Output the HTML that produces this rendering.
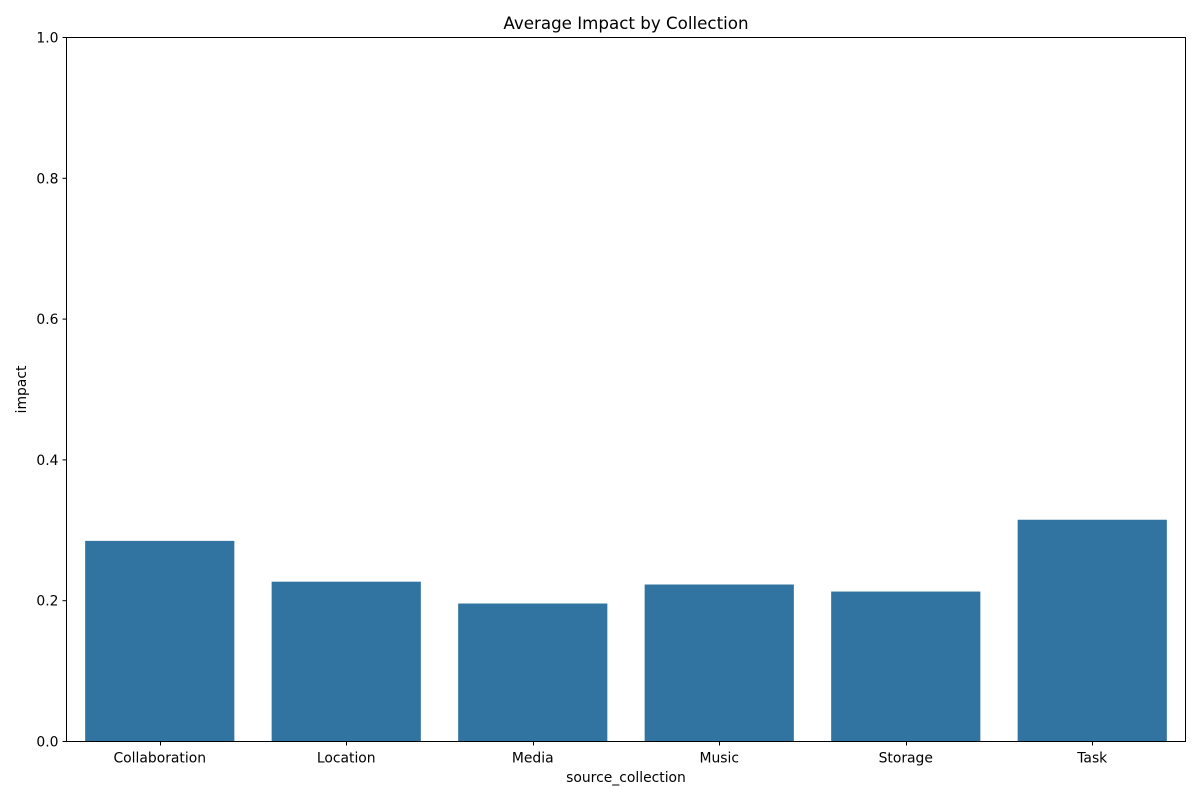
<!DOCTYPE html>
<html><head><meta charset="utf-8"><style>
body{margin:0;background:#fff;}
svg text{font-family:"DejaVu Sans","Liberation Sans",sans-serif;}
</style></head><body>
<svg id="chart" width="1200" height="800" xmlns="http://www.w3.org/2000/svg"></svg>
<script>
const categories = ["Collaboration","Location","Media","Music","Storage","Task"];
const impactValues = [0.285, 0.227, 0.196, 0.223, 0.213, 0.315];
const yTicks = [0.0, 0.2, 0.4, 0.6, 0.8, 1.0];
const yTickLabels = ["0.0","0.2","0.4","0.6","0.8","1.0"];

const svg = document.getElementById('chart');
const NS = 'http://www.w3.org/2000/svg';
const L=66.5, R=1185.5, T=37.5, B=741.5;
function yScale(v){return B-(v-0)/(1-0)*(B-T);}
const band=(R-L)/categories.length;
function xCenter(i){return L+band*(i+0.5);}
function mk(tag, attrs){const e=document.createElementNS(NS,tag);for(const k in attrs)e.setAttribute(k,attrs[k]);svg.appendChild(e);return e;}

categories.forEach((c,i)=>{
  const w=band*0.8;
  const r=mk('rect',{x:xCenter(i)-w/2,y:yScale(impactValues[i]),width:w,height:B-yScale(impactValues[i]),fill:'#3274a1'});
  
  
  mk('line',{x1:Math.round(xCenter(i))+0.5,x2:Math.round(xCenter(i))+0.5,y1:B,y2:B+4,stroke:'#000','stroke-width':1});
  const t=mk('text',{x:xCenter(i),y:B+21,'text-anchor':'middle','font-size':13.9,fill:'#000'});
  t.textContent=c;
  
  
});
yTicks.forEach((v,i)=>{
  mk('line',{x1:L-4,x2:L,y1:yScale(v),y2:yScale(v),stroke:'#000','stroke-width':1});
  const t=mk('text',{x:L-8,y:yScale(v)+5,'text-anchor':'end','font-size':13.9,fill:'#000'});
  t.textContent=yTickLabels[i];
  
  
});
const frame=mk('rect',{x:L,y:T,width:R-L,height:B-T,fill:'none',stroke:'#000','stroke-width':1});


const title=mk('text',{x:(L+R)/2,y:29,'text-anchor':'middle','font-size':16.7,fill:'#000'});
title.textContent='Average Impact by Collection';


const xl=mk('text',{x:(L+R)/2,y:782,'text-anchor':'middle','font-size':13.9,fill:'#000'});
xl.textContent='source_collection';


const yl=mk('text',{x:26,y:(T+B)/2,'text-anchor':'middle','font-size':13.9,fill:'#000',transform:'rotate(-90 26 '+((T+B)/2)+')'});
yl.textContent='impact';


</script>
</body></html>
